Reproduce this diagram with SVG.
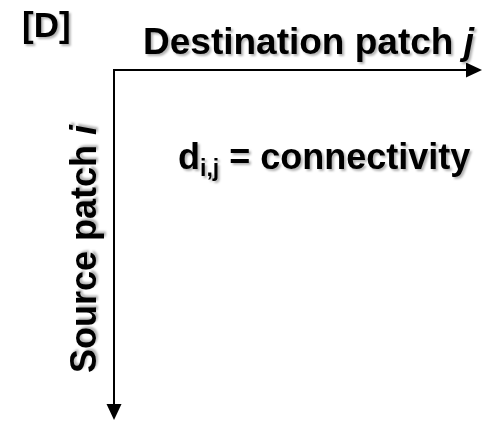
<svg xmlns="http://www.w3.org/2000/svg" width="495" height="422" viewBox="0 0 495 422">
<style>
.t{font-family:"Liberation Sans",Arial,sans-serif;font-weight:bold;fill:#000;filter:url(#sh)}
.ax{stroke:#000;stroke-width:2;fill:none}
</style>
<defs>
<filter id="sh" x="-10%" y="-20%" width="130%" height="150%">
<feDropShadow dx="2" dy="2" stdDeviation="1.2" flood-color="#000" flood-opacity="0.3"/>
</filter>
<marker id="ah" markerUnits="userSpaceOnUse" markerWidth="17" markerHeight="16" refX="0" refY="7.5" orient="auto">
<path d="M0,0 L16,7.5 L0,15 Z" fill="#000"/>
</marker>
</defs>
<rect width="495" height="422" fill="#fff"/>
<g id="connectors">
<line class="ax" x1="113" y1="70" x2="466" y2="70" marker-end="url(#ah)"/>
<line class="ax" x1="114" y1="69" x2="114" y2="404" marker-end="url(#ah)"/>
</g>
<g id="panel-label"><text class="t" x="22" y="37" font-size="35">[D]</text></g>
<g id="axis-destination"><text class="t" x="143" y="54" font-size="37">Destination patch <tspan font-style="italic">j</tspan></text></g>
<g id="axis-source"><text class="t" transform="translate(96,373) rotate(-90)" x="0" y="0" font-size="36">Source patch <tspan font-style="italic">i</tspan></text></g>
<g id="cell-label"><text class="t" x="178" y="169" font-size="36">d<tspan font-size="23" dy="7">i,j</tspan><tspan dy="-7"> = connectivity</tspan></text></g>
</svg>
